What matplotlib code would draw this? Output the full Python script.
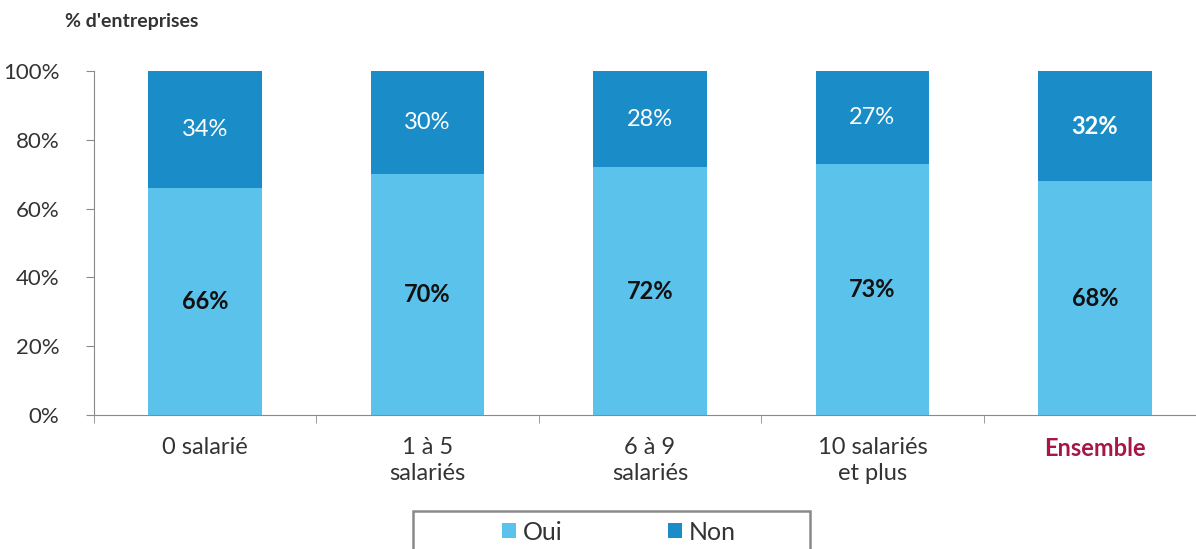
import matplotlib.pyplot as plt
import matplotlib.patches as mpatches
import numpy as np

categories = ['0 salarié', '1 à 5\nsalariés', '6 à 9\nsalariés', '10 salariés\net plus', 'Ensemble']
oui = [66, 70, 72, 73, 68]
non = [34, 30, 28, 27, 32]

plt.rcParams['font.family'] = ['Lato', 'DejaVu Sans']

c_oui = '#5bc2ec'
c_non = '#1a8dc8'
grey = '#8a8a8a'
txt = '#333333'

fig = plt.figure(figsize=(11.96, 5.49), dpi=100)
ax = fig.add_axes([94 / 1196, 1 - 415 / 549, 1112 / 1196, 344 / 549])

x = np.arange(len(categories))
ax.bar(x, oui, width=0.51, color=c_oui, label='Oui')
ax.bar(x, non, width=0.51, bottom=oui, color=c_non, label='Non')

for i in range(len(categories)):
    ax.text(x[i], oui[i] / 2, f'{oui[i]}%', ha='center', va='center',
            fontsize=17, fontweight='bold', color='#111111')
    ax.text(x[i], oui[i] + non[i] / 2, f'{non[i]}%', ha='center', va='center',
            fontsize=17, color='white',
            fontweight='bold' if i == len(categories) - 1 else 'normal')

ax.set_xlim(-0.5, 4.5)
ax.set_ylim(0, 100)
ax.set_yticks(range(0, 101, 20))
ax.set_yticklabels([f'{v}%' for v in range(0, 101, 20)], fontsize=16, color=txt)
ax.set_xticks(x)
ax.set_xticklabels(categories, fontsize=17, color=txt, va='top', linespacing=1.3)
ax.get_xticklabels()[-1].set_color('#a5174a')
ax.get_xticklabels()[-1].set_fontweight('bold')
ax.tick_params(axis='x', length=0, pad=16)
ax.set_xticks(np.arange(-0.5, 4.6, 1), minor=True)
ax.tick_params(axis='x', which='minor', length=6, color=grey, direction='out')
ax.tick_params(axis='y', length=6, color=grey, pad=19)

for s in ['top', 'right']:
    ax.spines[s].set_visible(False)
ax.spines['left'].set_color(grey)
ax.spines['bottom'].set_color(grey)

fig.text(65 / 1196, 1 - 22 / 549, "% d'entreprises", fontsize=14, fontweight='bold',
         color=txt, va='center')

# legend box
box = mpatches.Rectangle((413 / 1196, -0.05), 397 / 1196, 0.05 + (549 - 511) / 549,
                         transform=fig.transFigure, fill=False, edgecolor=grey,
                         linewidth=1.8)
fig.patches.append(box)

leg = fig.legend(loc='center', bbox_to_anchor=(619 / 1196, 1 - 532 / 549), ncol=2,
                 fontsize=18, frameon=False,
                 handlelength=0.55, handleheight=0.55, handletextpad=0.3,
                 columnspacing=4.2)
for t in leg.get_texts():
    t.set_color(txt)

fig.savefig('out.png', dpi=100)
